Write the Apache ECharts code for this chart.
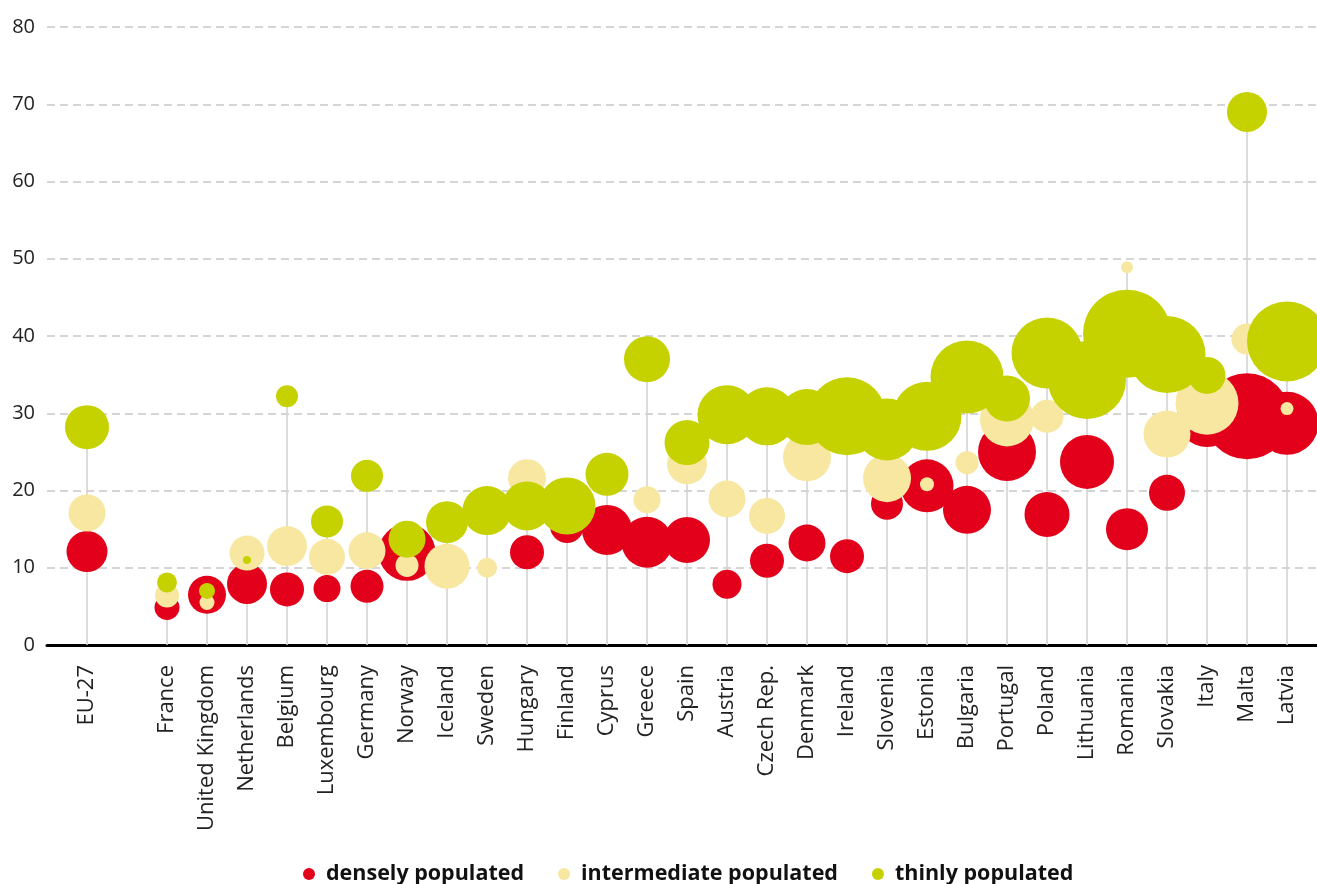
<!DOCTYPE html>
<html>
<head>
<meta charset="utf-8">
<script src="https://cdn.jsdelivr.net/npm/echarts@6/dist/echarts.min.js"></script>
<style>
html,body{margin:0;padding:0;background:#fff;}
#chart{width:1317px;height:884px;}
</style>
</head>
<body>
<div id="chart"></div>
<script>
// Categories (index 1 is an empty gap slot)
const categories = ['EU-27','','France','United Kingdom','Netherlands','Belgium','Luxembourg','Germany','Norway','Iceland','Sweden','Hungary','Finland','Cyprus','Greece','Spain','Austria','Czech Rep.','Denmark','Ireland','Slovenia','Estonia','Bulgaria','Portugal','Poland','Lithuania','Romania','Slovakia','Italy','Malta','Latvia'];

// Values (%)
const densely      = [12.1,null,4.85,6.5,7.9,7.2,7.3,7.6,12.0,null,null,12.0,15.4,14.9,13.3,13.6,7.85,10.9,13.2,11.5,18.3,20.6,17.5,25.0,16.9,23.7,15.0,19.7,29.5,29.6,28.7];
const intermediate = [17.1,null,6.4,5.5,11.9,12.8,11.4,12.2,10.3,10.2,10.0,21.6,null,null,18.8,23.4,18.9,16.7,24.3,null,21.6,20.8,23.6,29.2,29.6,null,48.9,27.3,31.3,39.6,30.6];
const thinly       = [28.2,null,8.1,7.0,11.0,32.2,16.0,21.9,13.7,15.9,17.4,18.0,18.0,22.1,37.0,26.2,29.8,29.6,29.5,29.6,27.9,29.6,34.7,31.9,37.8,34.3,40.3,37.6,34.9,69.0,39.3];

// Relative bubble sizes
const denselySize      = [41,null,25,38,40,34,27,33,57,null,null,34,34,50,51,46,29,34,37,34,32,53,48,58,45,54,42,36,60,86,63];
const intermediateSize = [37,null,24,15,35,40,36,37,23,45,20,38,null,null,27,40,37,36,48,null,48,14,23,54,33,null,12,47,63,31,13];
const thinlySize       = [44,null,20,16,8,22,32,32,37,42,49,49,57,43,46,45,59,58,56,78,62,69,73,46,71,78,88,77,37,40,80];

const seriesNames = ['densely populated','intermediate populated','thinly populated'];
const colors = ['#e2001a','#f8e7a0','#c6d200'];

function toData(vals, sizes){
  const out = [];
  vals.forEach((v,i)=>{ if(v!==null) out.push([i, v, sizes[i]]); });
  return out;
}

const stems = categories.map((c,i)=>{
  const vs = [densely[i], intermediate[i], thinly[i]].filter(v=>v!==null);
  return vs.length ? [i, Math.max.apply(null, vs)] : null;
}).filter(d=>d);

const chart = echarts.init(document.getElementById('chart'), null, {renderer:'canvas'});
const FONT = 'Open Sans';

const bubble = (name, vals, sizes, color, z) => ({
  name: name,
  type: 'scatter',
  data: toData(vals, sizes),
  symbol: 'circle',
  symbolSize: d => d[2],
  itemStyle: {color: color, opacity: 1},
  clip: false,
  z: z,
  emphasis: {disabled: true}
});

chart.setOption({
  animation: false,
  backgroundColor: '#fff',
  color: colors,
  grid: {left: 47, right: 0, top: 27, bottom: 239, containLabel: false},
  legend: {
    left: 298, top: 858,
    itemWidth: 12, itemHeight: 12, itemGap: 34,
    icon: 'circle',
    textStyle: {fontFamily: FONT, fontSize: 21.5, fontWeight: 'bold', color: '#111', padding: [0,0,0,6]},
    data: seriesNames
  },
  xAxis: {
    type: 'value', min: -1, max: 30.75, interval: 1,
    axisLine: {show: true, onZero: false, lineStyle: {color: '#000', width: 3}},
    axisTick: {show: false},
    splitLine: {show: false},
    axisLabel: {
      rotate: 90, margin: 20, fontFamily: FONT, fontSize: 22, color: '#222',
      showMinLabel: true, showMaxLabel: true,
      formatter: v => (Number.isInteger(v) && v >= 0 && v < categories.length) ? categories[v] : ''
    }
  },
  yAxis: {
    type: 'value', min: 0, max: 80, interval: 10,
    axisLine: {show: false}, axisTick: {show: false},
    axisLabel: {fontFamily: FONT, fontSize: 20, color: '#222', margin: 12},
    splitLine: {show: true, lineStyle: {color: '#c8c8c8', width: 1.5, type: [8,5]}}
  },
  series: [
    {
      name: 'stems', type: 'custom', data: stems, z: 1, silent: true,
      renderItem: (params, api) => {
        const p0 = api.coord([api.value(0), 0]);
        const p1 = api.coord([api.value(0), api.value(1)]);
        return {type: 'line', shape: {x1: p0[0], y1: p0[1], x2: p1[0], y2: p1[1]},
                style: {stroke: '#d0d0d0', lineWidth: 1.5}};
      }
    },
    bubble(seriesNames[0], densely, denselySize, colors[0], 2),
    bubble(seriesNames[1], intermediate, intermediateSize, colors[1], 3),
    bubble(seriesNames[2], thinly, thinlySize, colors[2], 4)
  ]
});
</script>
</body>
</html>
